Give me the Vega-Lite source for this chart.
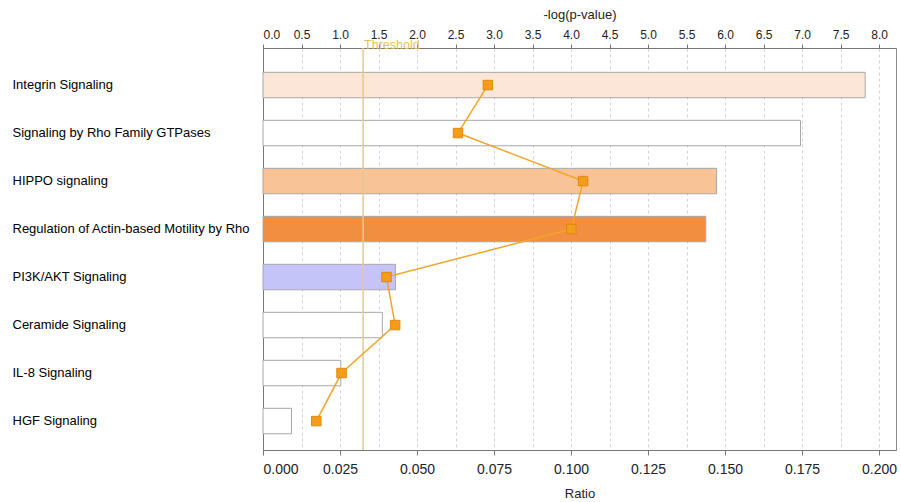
{
  "$schema": "https://vega.github.io/schema/vega-lite/v6.json",
  "autosize": "none",
  "padding": {"left": 263, "top": 48, "right": 5, "bottom": 52},
  "width": 633,
  "height": 402,
  "background": "white",
  "config": {"view": {"stroke": "#8c8c8c"}, "font": "Liberation Sans", "axis": {"labelOverlap": false}},
  "data": {"values": [
    {"pathway": "Integrin Signaling", "logp": 7.82, "ratio": 0.0730, "shade": "light", "rank": 1},
    {"pathway": "Signaling by Rho Family GTPases", "logp": 6.98, "ratio": 0.0633, "shade": "none", "rank": 2},
    {"pathway": "HIPPO signaling", "logp": 5.89, "ratio": 0.1039, "shade": "mid", "rank": 3},
    {"pathway": "Regulation of Actin-based Motility by Rho", "logp": 5.75, "ratio": 0.1001, "shade": "dark", "rank": 4},
    {"pathway": "PI3K/AKT Signaling", "logp": 1.72, "ratio": 0.0401, "shade": "blue", "rank": 5},
    {"pathway": "Ceramide Signaling", "logp": 1.55, "ratio": 0.0429, "shade": "none", "rank": 6},
    {"pathway": "IL-8 Signaling", "logp": 1.01, "ratio": 0.0255, "shade": "none", "rank": 7},
    {"pathway": "HGF Signaling", "logp": 0.37, "ratio": 0.0173, "shade": "none", "rank": 8}
  ]},
  "layer": [
    {
      "layer": [
        {
          "mark": {"type": "bar", "stroke": "#a8a8a8", "strokeWidth": 1},
          "encoding": {
            "y": {
              "field": "pathway", "type": "nominal",
              "sort": ["Integrin Signaling", "Signaling by Rho Family GTPases", "HIPPO signaling", "Regulation of Actin-based Motility by Rho", "PI3K/AKT Signaling", "Ceramide Signaling", "IL-8 Signaling", "HGF Signaling"],
              "scale": {"paddingInner": 0.47, "paddingOuter": 0.4225, "align": 0.6},
              "axis": {"title": null, "labelAlign": "left", "labelPadding": 251, "ticks": false, "domain": true, "domainColor": "#777777", "labelFontSize": 13, "labelColor": "#000000", "labelFont": "Liberation Sans", "labelLimit": 300}
            },
            "x": {
              "field": "logp", "type": "quantitative",
              "scale": {"domain": [0, 8.22], "nice": false, "zero": true},
              "axis": {"orient": "top", "title": "-log(p-value)", "values": [0, 0.5, 1, 1.5, 2, 2.5, 3, 3.5, 4, 4.5, 5, 5.5, 6, 6.5, 7, 7.5, 8], "format": ".1f", "labelOverlap": false, "grid": true, "gridDash": [3, 3], "gridColor": "#d4d4d4", "tickSize": 4, "tickColor": "#777777", "domainColor": "#777777", "labelFontSize": 12, "labelColor": "#222222", "labelPadding": 3, "titleFontSize": 13, "titleFontWeight": "normal", "titleColor": "#222222", "titlePadding": 7}
            },
            "color": {
              "field": "shade", "type": "nominal",
              "scale": {"domain": ["light", "none", "mid", "dark", "blue"], "range": ["#fce6d8", "#ffffff", "#f8c497", "#f18e40", "#c4c4f8"]},
              "legend": null
            }
          }
        },
        {
          "data": {"values": [{"logp": 1.3, "label": "Threshold"}]},
          "mark": {"type": "rule", "color": "#e8c98c", "strokeWidth": 1.5},
          "encoding": {"x": {"field": "logp", "type": "quantitative",
              "axis": {"orient": "top", "title": "-log(p-value)", "values": [0, 0.5, 1, 1.5, 2, 2.5, 3, 3.5, 4, 4.5, 5, 5.5, 6, 6.5, 7, 7.5, 8], "format": ".1f", "labelOverlap": false, "grid": true, "gridDash": [3, 3], "gridColor": "#d4d4d4", "tickSize": 4, "tickColor": "#777777", "domainColor": "#777777", "labelFontSize": 12, "labelColor": "#222222", "labelPadding": 3, "titleFontSize": 13, "titleFontWeight": "normal", "titleColor": "#222222", "titlePadding": 7}}}
        },
        {
          "data": {"values": [{"logp": 1.3, "label": "Threshold"}]},
          "mark": {"type": "text", "align": "left", "baseline": "middle", "color": "#e6bf55", "fontSize": 12.5, "dx": 1},
          "encoding": {"x": {"field": "logp", "type": "quantitative",
              "axis": {"orient": "top", "title": "-log(p-value)", "values": [0, 0.5, 1, 1.5, 2, 2.5, 3, 3.5, 4, 4.5, 5, 5.5, 6, 6.5, 7, 7.5, 8], "format": ".1f", "labelOverlap": false, "grid": true, "gridDash": [3, 3], "gridColor": "#d4d4d4", "tickSize": 4, "tickColor": "#777777", "domainColor": "#777777", "labelFontSize": 12, "labelColor": "#222222", "labelPadding": 3, "titleFontSize": 13, "titleFontWeight": "normal", "titleColor": "#222222", "titlePadding": 7}},
            "y": {"value": -3}, "text": {"field": "label"}}
        }
      ]
    },
    {
      "layer": [
        {
          "mark": {"type": "line", "color": "#f2a52a", "strokeWidth": 1.5},
          "encoding": {
            "y": {
              "field": "pathway", "type": "nominal",
              "sort": ["Integrin Signaling", "Signaling by Rho Family GTPases", "HIPPO signaling", "Regulation of Actin-based Motility by Rho", "PI3K/AKT Signaling", "Ceramide Signaling", "IL-8 Signaling", "HGF Signaling"]
            },
            "x": {
              "field": "ratio", "type": "quantitative",
              "scale": {"domain": [0, 0.2055], "nice": false, "zero": true},
              "axis": {"orient": "bottom", "title": "Ratio", "values": [0, 0.025, 0.05, 0.075, 0.1, 0.125, 0.15, 0.175, 0.2], "format": ".3f", "labelOverlap": false, "grid": false, "tickSize": 5, "tickColor": "#777777", "domainColor": "#777777", "labelFontSize": 14, "labelColor": "#222222", "labelPadding": 7, "titleFontSize": 13, "titleFontWeight": "normal", "titleColor": "#222222", "titlePadding": 11}
            },
            "order": {"field": "rank", "type": "quantitative"}
          }
        },
        {
          "mark": {"type": "square", "size": 90, "filled": true, "color": "#f39d1c", "opacity": 1, "stroke": "#e2880c", "strokeWidth": 1},
          "encoding": {
            "y": {
              "field": "pathway", "type": "nominal",
              "sort": ["Integrin Signaling", "Signaling by Rho Family GTPases", "HIPPO signaling", "Regulation of Actin-based Motility by Rho", "PI3K/AKT Signaling", "Ceramide Signaling", "IL-8 Signaling", "HGF Signaling"]
            },
            "x": {"field": "ratio", "type": "quantitative",
              "axis": {"orient": "bottom", "title": "Ratio", "values": [0, 0.025, 0.05, 0.075, 0.1, 0.125, 0.15, 0.175, 0.2], "format": ".3f", "labelOverlap": false, "grid": false, "tickSize": 5, "tickColor": "#777777", "domainColor": "#777777", "labelFontSize": 14, "labelColor": "#222222", "labelPadding": 7, "titleFontSize": 13, "titleFontWeight": "normal", "titleColor": "#222222", "titlePadding": 11}}
          }
        }
      ]
    }
  ],
  "resolve": {"scale": {"x": "independent"}}
}
